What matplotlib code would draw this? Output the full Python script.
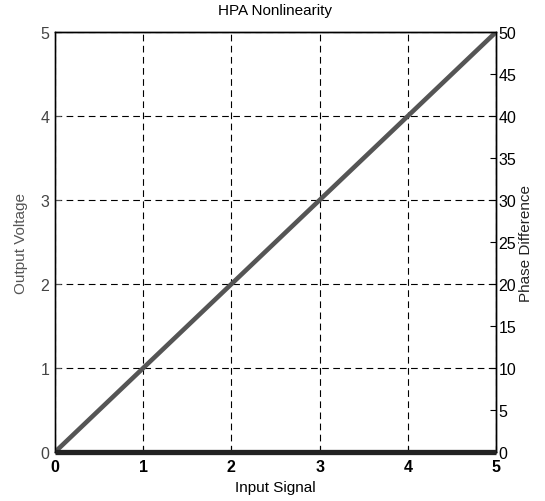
import numpy as np
import matplotlib.pyplot as plt

plt.rcParams['font.family'] = ['Liberation Sans', 'DejaVu Sans']

# HPA transfer: input amplitude -> output voltage, and phase shift (deg)
input_signal = [0, 1, 2, 3, 4, 5]
output_voltage = [0, 1, 2, 3, 4, 5]
phase_difference = [0, 0, 0, 0, 0, 0]

fig = plt.figure(figsize=(5.45, 5.02), dpi=100)
ax1 = fig.add_axes([0.101, 0.0976, 0.809, 0.8364])
ax2 = ax1.twinx()

ax1.plot(input_signal, output_voltage, color='#555555', linewidth=3.3,
         solid_capstyle='butt', zorder=3)
ax2.plot(input_signal, phase_difference, color='#222222', linewidth=3.8,
         solid_capstyle='butt', clip_on=False, zorder=3)

ax1.set_xlim(0, 5)
ax1.set_ylim(0, 5)
ax2.set_ylim(0, 50)
ax1.set_xticks(range(6))
ax1.set_yticks(range(6))
ax2.set_yticks(range(0, 51, 5))

ax1.grid(True, color='black', linestyle=(0, (6, 4)), linewidth=0.8)
ax1.set_axisbelow(True)

ax1.tick_params(axis='x', direction='in', length=4, labelsize=11.5,
                colors='black', pad=5)
for lbl in ax1.get_xticklabels():
    lbl.set_fontweight('bold')
ax1.tick_params(axis='y', direction='in', length=4, labelsize=11.5,
                colors='#555555', labelcolor='#444444', pad=4)
ax2.tick_params(axis='y', direction='in', length=4, labelsize=11.5,
                colors='black', pad=2)

for ax in (ax1, ax2):
    for s in ax.spines.values():
        s.set_linewidth(1.0)
        s.set_color('black')
ax1.spines['left'].set_color('#444444')

ax1.set_xlabel('Input Signal', fontsize=11, labelpad=4)
ax1.set_ylabel('Output Voltage', fontsize=11, color='#555555', labelpad=9)
ax2.set_ylabel('Phase Difference', fontsize=11, color='#222222', labelpad=2)
ax1.set_title('HPA Nonlinearity', fontsize=11, pad=13)

fig.savefig('out.png', dpi=100)
